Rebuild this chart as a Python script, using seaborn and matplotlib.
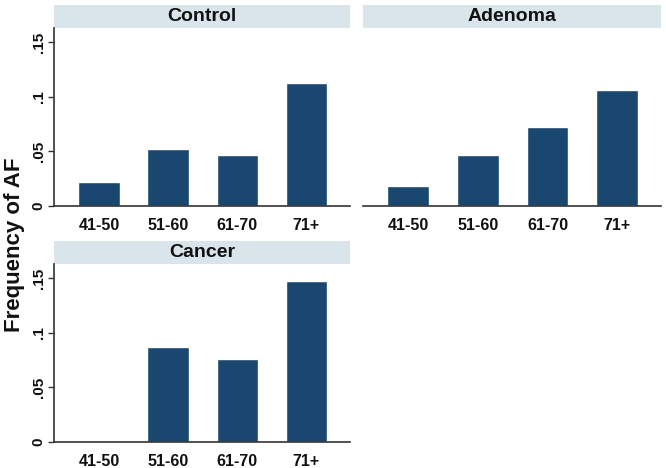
import matplotlib
matplotlib.use("Agg")
import matplotlib.pyplot as plt
from matplotlib.patches import Rectangle
import seaborn as sns
import pandas as pd

groups = ["Control", "Adenoma", "Cancer"]
age_groups = ["41-50", "51-60", "61-70", "71+"]
control_vals = [0.022, 0.052, 0.047, 0.113]
adenoma_vals = [0.018, 0.047, 0.072, 0.106]
cancer_vals = [0.0, 0.087, 0.076, 0.147]
y_ticks = [0, 0.05, 0.10, 0.15]
y_tick_labels = ["0", ".05", ".1", ".15"]
y_label = "Frequency of AF"

df = pd.DataFrame({
    "group": [g for g in groups for _ in age_groups],
    "age": age_groups * 3,
    "freq": control_vals + adenoma_vals + cancer_vals,
})

sns.set_theme(style="white")
plt.rcParams["font.family"] = ["Liberation Sans", "DejaVu Sans"]

W, H = 666, 468
fig = plt.figure(figsize=(W / 100, H / 100), dpi=100)
fig.patch.set_facecolor("white")

# panel rectangles in pixels: (left, top, right, bottom)
panels = {
    "Control": (54, 28, 350, 206),
    "Adenoma": (363, 28, 661, 206),
    "Cancer": (54, 264, 350, 442),
}
bar_color = "#1a476f"
strip_color = "#d9e4eb"

for g in groups:
    l, t, r, b = panels[g]
    ax = fig.add_axes([l / W, (H - b) / H, (r - l) / W, (b - t) / H])
    sub = df[df["group"] == g]
    sns.barplot(data=sub, x="age", y="freq", order=age_groups, color=bar_color,
                width=0.6, saturation=1, ax=ax, errorbar=None)
    ax.set_xlim(-0.65, 3.63)
    ax.set_ylim(0, 0.163)
    ax.set_xlabel("")
    ax.set_ylabel("")
    for s in ["top", "right"]:
        ax.spines[s].set_visible(False)
    ax.spines["bottom"].set_color("#333333")
    ax.spines["bottom"].set_linewidth(1.2)
    ax.tick_params(axis="x", length=0, pad=9, labelsize=11.5)
    for lab in ax.get_xticklabels():
        lab.set_fontweight("bold")
        lab.set_color("#111111")
    if g == "Adenoma":
        ax.spines["left"].set_visible(False)
        ax.set_yticks([])
    else:
        ax.spines["left"].set_color("#333333")
        ax.spines["left"].set_linewidth(1.2)
        ax.set_yticks(y_ticks)
        ax.set_yticklabels(y_tick_labels, rotation=90, va="center",
                           fontsize=11, fontweight="bold", color="#111111")
        ax.tick_params(axis="y", left=True, length=4, width=1.0,
                       color="#333333", pad=2)
    # header strip
    strip_h = 23 / (b - t)
    ax.add_patch(Rectangle((0, 1.0), 1, strip_h, transform=ax.transAxes,
                           facecolor=strip_color, edgecolor="none", clip_on=False))
    ax.text(0.5, 1.0 + strip_h / 2, g, transform=ax.transAxes, ha="center",
            va="center", fontsize=14, fontweight="bold", color="#111111")

fig.text(15 / W, (H - 245) / H, y_label, rotation=90, ha="center", va="center",
         fontsize=16, fontweight="bold", color="#111111")

fig.savefig("out.png", dpi=100, facecolor="white")
